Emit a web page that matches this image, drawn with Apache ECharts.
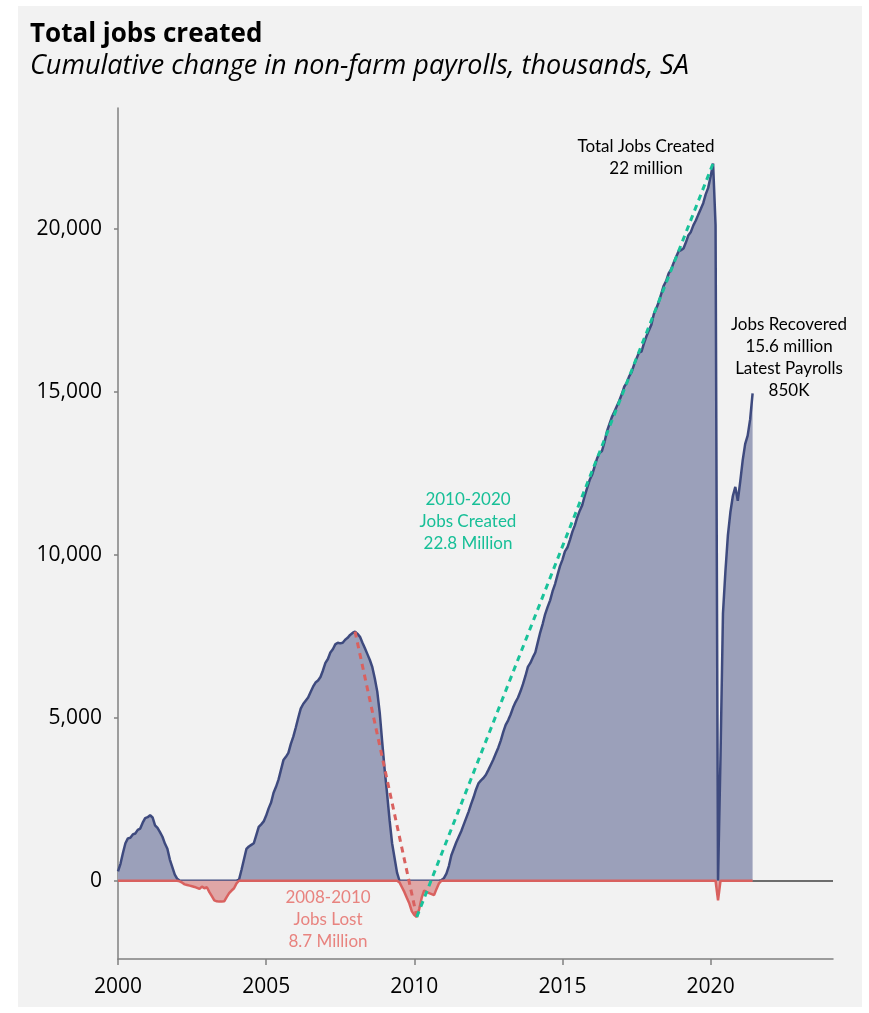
<!DOCTYPE html>
<html>
<head>
<meta charset="utf-8">
<script src="https://cdn.jsdelivr.net/npm/echarts@6/dist/echarts.min.js"></script>
<style>
html, body { margin: 0; padding: 0; background: #fff; }
#panel { position: absolute; left: 18px; top: 6px; width: 844px; height: 1001px; background: #f2f2f2; }
#container { position: absolute; left: 0; top: 0; width: 869px; height: 1013px; }
</style>
</head>
<body>
<div id="panel"></div>
<div id="container"></div>
<script>
// cumulative change in non-farm payrolls since Dec 1999, thousands, one value per month
var startYear = 2000;
var jobs2000 = [285, 520, 850, 1150, 1300, 1320, 1420, 1450, 1560, 1600, 1780, 1920];
var jobs2001 = [1950, 2010, 1940, 1700, 1620, 1490, 1350, 1140, 980, 650, 420, 190];
var jobs2002 = [60, -20, -60, -110, -130, -150, -170, -190, -220, -250, -180, -230];
var jobs2003 = [-200, -350, -470, -600, -630, -640, -640, -630, -500, -380, -300, -230];
var jobs2004 = [-80, 30, 330, 650, 975, 1050, 1100, 1150, 1400, 1650, 1730, 1820];
var jobs2005 = [2000, 2220, 2400, 2700, 2880, 3100, 3400, 3700, 3800, 3920, 4200, 4420];
var jobs2006 = [4700, 5000, 5280, 5420, 5520, 5620, 5790, 5950, 6080, 6140, 6250, 6450];
var jobs2007 = [6680, 6800, 7000, 7100, 7250, 7300, 7280, 7300, 7390, 7450, 7540, 7600];
var jobs2008 = [7640, 7570, 7480, 7300, 7130, 6950, 6770, 6550, 6200, 5800, 5150, 4250];
var jobs2009 = [3400, 2650, 1850, 1150, 700, 250, -50, -200, -350, -530, -700, -940];
var jobs2010 = [-1050, -1110, -860, -520, -300, -350, -380, -410, -440, -250, -80, 20];
var jobs2011 = [80, 220, 450, 780, 980, 1180, 1350, 1520, 1720, 1920, 2120, 2350];
var jobs2012 = [2560, 2800, 2990, 3080, 3150, 3250, 3400, 3560, 3720, 3900, 4080, 4300];
var jobs2013 = [4560, 4780, 4920, 5100, 5310, 5480, 5620, 5810, 6030, 6280, 6560, 6680];
var jobs2014 = [6850, 7000, 7310, 7620, 7880, 8180, 8400, 8600, 8880, 9100, 9380, 9650];
var jobs2015 = [9850, 10100, 10220, 10450, 10700, 10900, 11150, 11350, 11520, 11800, 12050, 12290];
var jobs2016 = [12450, 12700, 12950, 13120, 13180, 13450, 13780, 14000, 14220, 14380, 14550, 14720];
var jobs2017 = [14920, 15150, 15270, 15470, 15600, 15830, 16020, 16200, 16230, 16480, 16700, 16880];
var jobs2018 = [17050, 17380, 17550, 17750, 18000, 18250, 18400, 18630, 18750, 18950, 19130, 19300];
var jobs2019 = [19340, 19390, 19580, 19800, 19900, 20100, 20250, 20430, 20600, 20780, 21050, 21250];
var jobs2020 = [21600, 22000, 20100, -600, 3800, 8200, 9500, 10600, 11300, 11800, 12080, 11650];
var jobs2021 = [12250, 12900, 13400, 13650, 14150, 14950];

var yTicks = [0, 5000, 10000, 15000, 20000];
var xTicks = [2000, 2005, 2010, 2015, 2020];

// months (index from Jan 2000) joined by the dashed trend lines
var peak2008 = 96;    // Jan 2008
var trough2010 = 121; // Feb 2010
var peak2020 = 241;   // Feb 2020

var values = [].concat(jobs2000, jobs2001, jobs2002, jobs2003, jobs2004, jobs2005,
  jobs2006, jobs2007, jobs2008, jobs2009, jobs2010, jobs2011, jobs2012, jobs2013,
  jobs2014, jobs2015, jobs2016, jobs2017, jobs2018, jobs2019, jobs2020, jobs2021);

function monthX(i) { return startYear + i / 12; }
function pt(i) { return [monthX(i), values[i]]; }

var posData = values.map(function (v, i) { return [monthX(i), Math.max(v, 0)]; });
var negData = values.map(function (v, i) { return [monthX(i), Math.min(v, 0)]; });

var navy = '#3e4a7e', red = '#d9615f', teal = '#19c29a';
var noteFont = 'Lato, sans-serif';
var axisFont = '"Open Sans", sans-serif';

var myChart = echarts.init(document.getElementById('container'));
option = {
  animation: false,
  title: {
    text: 'Total jobs created',
    subtext: 'Cumulative change in non-farm payrolls, thousands, SA',
    left: 25,
    top: 17,
    itemGap: 5,
    textStyle: { fontFamily: axisFont, fontWeight: 'bold', fontSize: 26, color: '#000' },
    subtextStyle: { fontFamily: axisFont, fontStyle: 'italic', fontSize: 27, color: '#000' }
  },
  grid: { left: 118, right: 36, top: 108, bottom: 54 },
  xAxis: {
    type: 'value',
    min: 2000,
    max: 2024.13,
    axisLine: { onZero: false, lineStyle: { color: '#808080', width: 1.5 } },
    axisTick: { customValues: xTicks, length: 6, lineStyle: { color: '#808080', width: 1.5 } },
    axisLabel: {
      customValues: xTicks, margin: 18, fontSize: 21, color: '#000', fontFamily: axisFont,
      formatter: function (v) { return String(v); }
    },
    splitLine: { show: false }
  },
  yAxis: {
    type: 'value',
    min: -2400,
    max: 23700,
    axisLine: { show: true, onZero: false, lineStyle: { color: '#808080', width: 1.5 } },
    axisTick: { show: true, customValues: yTicks, length: 4, lineStyle: { color: '#808080', width: 1.5 } },
    axisLabel: {
      customValues: yTicks, margin: 16, fontSize: 21, color: '#000', fontFamily: axisFont,
      formatter: function (v) { return v.toLocaleString('en-US'); }
    },
    splitLine: { show: false }
  },
  series: [
    {
      name: 'zero', type: 'line', data: [], z: 1, silent: true,
      markLine: {
        z: 1, silent: true, symbol: 'none', label: { show: false },
        lineStyle: { color: '#404040', width: 1.5, type: 'solid' },
        data: [{ yAxis: 0 }]
      }
    },
    {
      name: 'Jobs created', type: 'line', data: posData, showSymbol: false, z: 2,
      lineStyle: { color: navy, width: 2.5 },
      areaStyle: { color: '#9ba0ba', opacity: 1 }
    },
    {
      name: 'Jobs lost', type: 'line', data: negData, showSymbol: false, z: 3,
      lineStyle: { color: red, width: 2.5 },
      areaStyle: { color: '#e0a6a6', opacity: 1 }
    },
    {
      name: '2008-2010', type: 'line', data: [pt(peak2008), pt(trough2010)], showSymbol: false, z: 4,
      lineStyle: { color: red, width: 3, type: [6, 5] }
    },
    {
      name: '2010-2020', type: 'line', data: [pt(trough2010), pt(peak2020)], showSymbol: false, z: 4,
      lineStyle: { color: teal, width: 3, type: [6, 5] }
    }
  ],
  graphic: [
    { type: 'text', x: 646, y: 158, style: { text: 'Total Jobs Created\n22 million', font: '17px ' + noteFont, fill: '#000', align: 'center', verticalAlign: 'middle', lineHeight: 22 } },
    { type: 'text', x: 789, y: 358, style: { text: 'Jobs Recovered\n15.6 million\nLatest Payrolls\n850K', font: '17px ' + noteFont, fill: '#000', align: 'center', verticalAlign: 'middle', lineHeight: 22 } },
    { type: 'text', x: 468, y: 522, style: { text: '2010-2020\nJobs Created\n22.8 Million', font: '17px ' + noteFont, fill: '#17bf97', align: 'center', verticalAlign: 'middle', lineHeight: 22 } },
    { type: 'text', x: 328, y: 920, style: { text: '2008-2010\nJobs Lost\n8.7 Million', font: '17px ' + noteFont, fill: '#e8837f', align: 'center', verticalAlign: 'middle', lineHeight: 22 } }
  ]
};
myChart.setOption(option, true);
</script>
</body>
</html>
